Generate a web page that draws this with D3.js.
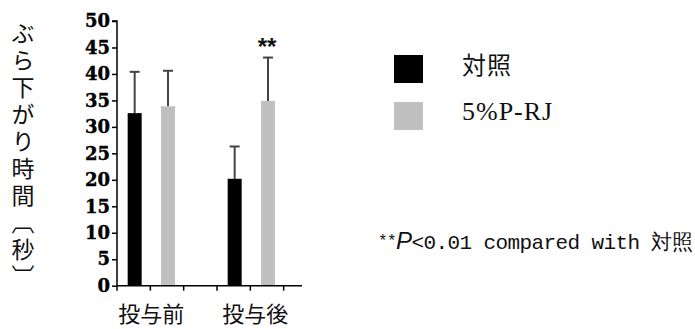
<!DOCTYPE html>
<html><head><meta charset="utf-8">
<script src="https://cdn.jsdelivr.net/npm/d3@7"></script>
<style>
html,body{margin:0;padding:0;background:#fff;}
svg{display:block;}
</style></head>
<body>
<svg id="chart" width="695" height="329"></svg>
<script>
const categories = ["投与前", "投与後"];
const series = ["対照", "5%P-RJ"];
const meanControl = [32.6, 20.2];
const meanPRJ = [33.9, 34.9];
const errControl = [7.8, 6.1];
const errPRJ = [6.7, 8.2];
const significance = [["", ""], ["", "**"]];
const yTicks = [0, 5, 10, 15, 20, 25, 30, 35, 40, 45, 50];
const yLabel = "ぶら下がり時間〔秒〕";
const footnote = {stars: "**", p: "P", rest: "<0.01 compared with 対照"};
const colors = ["#000000", "#c0c0c0"];

const means = [meanControl, meanPRJ];
const errs = [errControl, errPRJ];

const svg = d3.select("#chart");
const y = d3.scaleLinear().domain([0, 50]).range([285.7, 21]);
// slot scale: each category takes 3 slots (two bars + gap)
const slot = d3.scaleLinear().domain([0, 6]).range([117, 317]);
const barW = 14;

const bars = [];
categories.forEach((c, i) => {
  series.forEach((s, j) => {
    bars.push({cat: c, ser: s, j, cx: slot(3 * i + 0.5 + j) + 1, v: means[j][i], e: errs[j][i], sig: significance[i][j]});
  });
});

// error bars
const eg = svg.append("g").attr("stroke", "#444").attr("stroke-width", 2);
eg.selectAll("line.v").data(bars).join("line")
  .attr("x1", d => d.cx).attr("x2", d => d.cx)
  .attr("y1", d => y(d.v)).attr("y2", d => y(d.v + d.e));
eg.selectAll("line.c").data(bars).join("line")
  .attr("x1", d => d.cx - 5).attr("x2", d => d.cx + 5)
  .attr("y1", d => y(d.v + d.e)).attr("y2", d => y(d.v + d.e));

svg.append("g").selectAll("rect").data(bars).join("rect")
  .attr("x", d => d.cx - barW / 2).attr("width", barW)
  .attr("y", d => y(d.v)).attr("height", d => y(0) - y(d.v))
  .attr("fill", d => colors[d.j]);

// significance marks
svg.append("g").selectAll("text").data(bars.filter(d => d.sig)).join("text")
  .attr("x", d => d.cx - 1).attr("y", d => y(d.v + d.e) - 3)
  .attr("text-anchor", "middle")
  .attr("font-family", "Liberation Sans, sans-serif").attr("font-weight", "bold")
  .attr("font-size", 24)
  .attr("fill", "#111").text(d => d.sig);

// y axis
const yAxis = svg.append("g").attr("transform", "translate(117,0)")
  .call(d3.axisLeft(y).tickValues(yTicks).tickSize(5).tickPadding(2).tickFormat(d3.format("d")));
yAxis.select(".domain").attr("stroke", "#000").attr("stroke-width", 1.5).attr("d", `M-5,${y(50)}H0V${y(0)}`);
yAxis.selectAll(".tick line").attr("stroke", "#000").attr("stroke-width", 1.5);
yAxis.selectAll(".tick text").attr("font-family", "DejaVu Serif, serif").attr("font-weight", "bold")
  .attr("font-size", 18).attr("fill", "#000").attr("stroke", "#000").attr("stroke-width", 0.4);

// x axis
const xg = svg.append("g").attr("transform", `translate(0,${y(0)})`);
xg.append("line").attr("x1", 117).attr("x2", 302).attr("stroke", "#000").attr("stroke-width", 1.5);
xg.selectAll("line.t").data(d3.range(0, 6)).join("line")
  .attr("x1", d => slot(d)).attr("x2", d => slot(d)).attr("y1", 0).attr("y2", 5)
  .attr("stroke", "#000").attr("stroke-width", 1.5);

svg.append("g").selectAll("text").data(categories).join("text")
  .attr("x", (d, i) => slot(3 * i + 1) + (i === 1 ? 5 : 1)).attr("y", 322)
  .attr("text-anchor", "middle")
  .attr("font-family", "Noto Sans CJK JP, sans-serif").attr("font-size", 22).attr("fill", "#111")
  .text(d => d);

// y label (vertical writing)
svg.append("text")
  .attr("x", 23).attr("y", 22)
  .style("writing-mode", "vertical-rl")
  .attr("font-family", "Noto Sans CJK JP, sans-serif").attr("font-size", 23)
  .attr("letter-spacing", 4).attr("fill", "#111")
  .text(yLabel);

// legend
const lg = svg.append("g");
series.forEach((s, j) => {
  lg.append("rect").attr("x", 394).attr("y", 55 + j * 47).attr("width", 29).attr("height", 28).attr("fill", colors[j]);
  lg.append("text").attr("x", 462).attr("y", 67 + j * 47).attr("dominant-baseline", "middle")
    .attr("font-family", j === 0 ? "Noto Sans CJK JP, sans-serif" : "Liberation Serif, serif")
    .attr("font-size", j === 0 ? 24 : 26).attr("letter-spacing", 1)
    .attr("fill", "#111").text(s);
});

// footnote
const fn = svg.append("text").attr("x", 378).attr("y", 249)
  .attr("font-family", "Liberation Mono, monospace").attr("fill", "#111").attr("font-size", 21).attr("letter-spacing", -0.6);
fn.append("tspan").attr("font-size", 16).attr("dy", -3).text(footnote.stars);
fn.append("tspan").attr("font-family", "Liberation Sans, sans-serif").attr("font-style", "italic").attr("font-size", 24).attr("dy", 3).text(footnote.p);
fn.append("tspan").attr("dx", 0).text(footnote.rest);
</script>
</body></html>
